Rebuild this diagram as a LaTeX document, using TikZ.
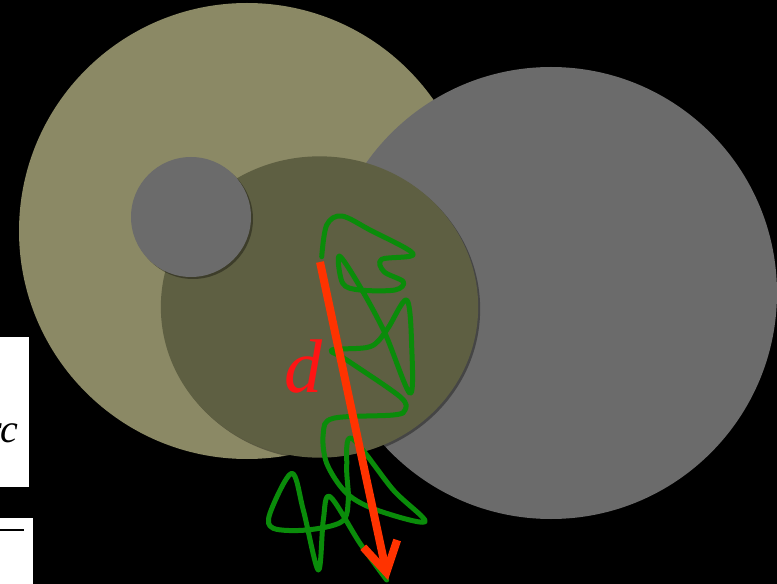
\documentclass[tikz,border=0pt]{standalone}
\usepackage{fontspec}
\newfontfamily\timesfont{Liberation Serif}
\usetikzlibrary{arrows.meta,shadows}
\definecolor{olivelight}{RGB}{139,137,101}
\definecolor{olivedark}{RGB}{94,95,66}
\definecolor{diskgray}{RGB}{107,107,107}
\definecolor{pathgreen}{RGB}{10,140,10}
\definecolor{arrowred}{RGB}{255,51,0}
\definecolor{labelred}{RGB}{255,20,20}
\tikzset{
  disk/.style={fill=#1, draw=none},
  shadowed/.style={drop shadow={shadow xshift=1.5pt, shadow yshift=-1.5pt, opacity=0.35, fill=black}},
  walk/.style={draw=pathgreen, line width=3.75pt, line cap=round, line join=round},
  dispvec/.style={draw=arrowred, line width=6pt, -{Straight Barb[length=22pt,width=26pt]}},
  panel/.style={fill=white, draw=none}
}
\begin{document}
\begin{tikzpicture}[x=0.75pt,y=-0.75pt]
  \fill[black] (0,0) rectangle (777,584);
  \useasboundingbox (0,0) rectangle (777,584);
  % left white panels
  \path[panel] (0,337) rectangle (29,487);
  \begin{scope}
    \clip (0,337) rectangle (29,487);
    \node[anchor=east, inner sep=0pt, font=\timesfont\itshape\fontsize{30}{32}\selectfont] (rclabel) at (19,433) {rc};
  \end{scope}
  \path[panel] (0,518) rectangle (33,584);
  \coordinate (barL) at (0,530);
  \coordinate (barR) at (24,530);
  \draw[line width=1.6pt] (barL) -- (barR);
  % disks
  \fill[disk=olivelight] (247,231) circle[radius=171pt];
  \fill[disk=diskgray] (551,293) circle[radius=169.5pt];
  \fill[disk=olivedark, shadowed] (319.5,307) ellipse[x radius=119pt, y radius=113pt];
  \fill[disk=diskgray, shadowed] (191,217) circle[radius=45pt];
  % random walk
  \draw[walk] plot[smooth, tension=0.55] coordinates {
    (321.7,256.7) (326.7,225) (341.7,216) (370,230) (413.3,254)
    (381.7,259.3) (384,271.7) (403.3,281.7) (395,290) (360,290)
    (342.7,283.3) (339.3,256) (360,286.7) (385,333.3) (410,393.3)
    (411.7,346.7) (406.7,300) (386.7,330) (370,346.7) (331.7,350)
    (346.7,360) (400,396.7) (405,410) (393.3,415) (333.3,418.3)
    (323.3,433.3) (326.7,463.3) (346.7,493.3) (376.7,510) (425,521.7)
    (393.3,490) (351.7,438.3) (346.7,466.7) (348.3,500) (341.7,521.7)
    (306.7,530) (273.3,528.3) (270,513.3) (291.7,473.3) (303.3,510)
    (318.3,570) (323.3,520) (330,496.7) (360,543.3) (386.7,580)};
  % displacement
  \coordinate (start) at (320,262);
  \coordinate (finish) at (388,580);
  \draw[dispvec] (start) -- (finish);
  \node[text=labelred, inner sep=0pt, font=\timesfont\itshape\fontsize{57}{60}\selectfont] (dlabel) at (303,367) {d};
\end{tikzpicture}
\end{document}
